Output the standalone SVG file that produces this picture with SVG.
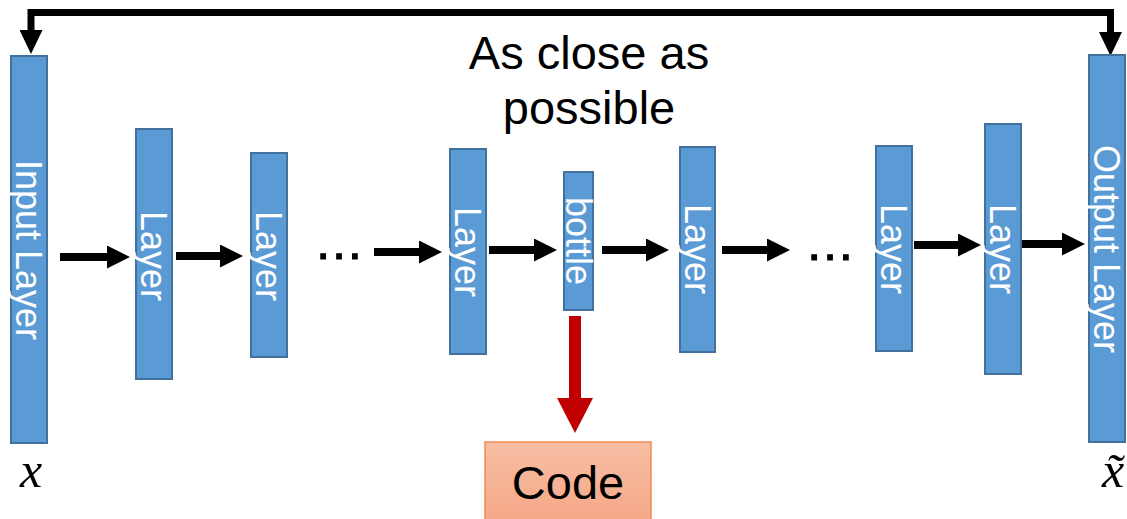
<svg xmlns="http://www.w3.org/2000/svg" width="1127" height="519" viewBox="0 0 1127 519">
  <defs>
    <style>
      .layer rect { fill: #5b9bd5; stroke: #41719c; stroke-width: 2; }
      .lbl { font-family: "Liberation Sans", Arial, sans-serif; font-size: 36px; fill: #ffffff; text-anchor: middle; }
      .big { font-family: "Liberation Sans", Arial, sans-serif; font-size: 47px; fill: #000000; text-anchor: middle; }
      .dots { font-family: "Liberation Sans", Arial, sans-serif; font-size: 50px; fill: #000000; text-anchor: middle; stroke: #000000; stroke-width: 1; }
      .math { font-family: "Liberation Serif", "DejaVu Serif", serif; font-style: italic; font-size: 50px; fill: #000000; text-anchor: middle; }
      .flow { stroke: #000000; stroke-width: 8; fill: none; marker-end: url(#head); }
      .loop { stroke: #000000; stroke-width: 7; fill: none; stroke-linejoin: miter; }
      .code-arrow { stroke: #c00000; stroke-width: 12; fill: none; marker-end: url(#redhead); }
    </style>
    <marker id="head" markerUnits="userSpaceOnUse" viewBox="0 0 23 23" markerWidth="23" markerHeight="23" refX="0" refY="11.5" orient="auto">
      <path d="M0,0 L23,11.5 L0,23 Z" fill="#000000"/>
    </marker>
    <marker id="loophead" markerUnits="userSpaceOnUse" viewBox="0 0 24 23" markerWidth="24" markerHeight="23" refX="0" refY="11.5" orient="auto-start-reverse">
      <path d="M0,0 L24,11.5 L0,23 Z" fill="#000000"/>
    </marker>
    <marker id="redhead" markerUnits="userSpaceOnUse" viewBox="0 0 35 36" markerWidth="35" markerHeight="36" refX="0" refY="18" orient="auto">
      <path d="M0,0 L35,18 L0,36 Z" fill="#c00000"/>
    </marker>
    <linearGradient id="codeFill" x1="0" y1="0" x2="0" y2="1">
      <stop offset="0" stop-color="#f7bea4"/>
      <stop offset="1" stop-color="#f4a583"/>
    </linearGradient>
  </defs>

  <rect x="0" y="0" width="1127" height="519" fill="#ffffff"/>

  <g id="connectors">
    <path class="loop" d="M31,30 L31,12.5 L1110.5,12.5 L1110.5,32" marker-start="url(#loophead)" marker-end="url(#loophead)"/>
    <path class="flow" d="M60,257 L107,257"/>
    <path class="flow" d="M176,256 L220,256"/>
    <path class="flow" d="M374,252 L419,252"/>
    <path class="flow" d="M489,250 L534,250"/>
    <path class="flow" d="M602,250 L646,250"/>
    <path class="flow" d="M722,250 L767,250"/>
    <path class="flow" d="M914,245 L958,245"/>
    <path class="flow" d="M1017,244 L1062,244"/>
    <path class="code-arrow" d="M575,316 L575,398"/>
  </g>

  <g id="caption">
    <text class="big" x="589" y="69">As close as</text>
    <text class="big" x="589" y="124">possible</text>
  </g>

  <g id="input-layer" class="layer">
    <rect x="11" y="56" width="36" height="387"/>
    <text class="lbl" transform="translate(29,250) rotate(90)" x="0" y="13">Input Layer</text>
  </g>
  <g id="layer-1" class="layer">
    <rect x="136" y="129" width="36" height="250"/>
    <text class="lbl" transform="translate(154,256) rotate(90)" x="0" y="13">Layer</text>
  </g>
  <g id="layer-2" class="layer">
    <rect x="251" y="153" width="36" height="204"/>
    <text class="lbl" transform="translate(269,256) rotate(90)" x="0" y="13">Layer</text>
  </g>
  <g id="dots-1">
    <text class="dots" x="339" y="259">…</text>
  </g>
  <g id="layer-3" class="layer">
    <rect x="450" y="149" width="36" height="205"/>
    <text class="lbl" transform="translate(468,252) rotate(90)" x="0" y="13">Layer</text>
  </g>
  <g id="bottle" class="layer">
    <rect x="564" y="172" width="29" height="138"/>
    <text class="lbl" transform="translate(578.5,241) rotate(90)" x="0" y="13">bottle</text>
  </g>
  <g id="layer-4" class="layer">
    <rect x="680" y="147" width="35" height="205"/>
    <text class="lbl" transform="translate(697.5,249) rotate(90)" x="0" y="13">Layer</text>
  </g>
  <g id="dots-2">
    <text class="dots" x="830" y="260">…</text>
  </g>
  <g id="layer-5" class="layer">
    <rect x="876" y="146" width="36" height="205"/>
    <text class="lbl" transform="translate(894,249) rotate(90)" x="0" y="13">Layer</text>
  </g>
  <g id="layer-6" class="layer">
    <rect x="985" y="124" width="36" height="250"/>
    <text class="lbl" transform="translate(1003,249) rotate(90)" x="0" y="13">Layer</text>
  </g>
  <g id="output-layer" class="layer">
    <rect x="1089" y="55" width="36" height="387"/>
    <text class="lbl" transform="translate(1107,249) rotate(90)" x="0" y="13">Output Layer</text>
  </g>

  <g id="code">
    <rect x="485" y="442" width="166" height="90" fill="url(#codeFill)" stroke="#f08c50" stroke-width="1.5"/>
    <text class="big" x="568" y="499">Code</text>
  </g>

  <g id="x-label">
    <text class="math" x="31" y="487">x</text>
  </g>
  <g id="x-tilde-label">
    <text class="math" x="1113" y="487">x̃</text>
  </g>
</svg>
